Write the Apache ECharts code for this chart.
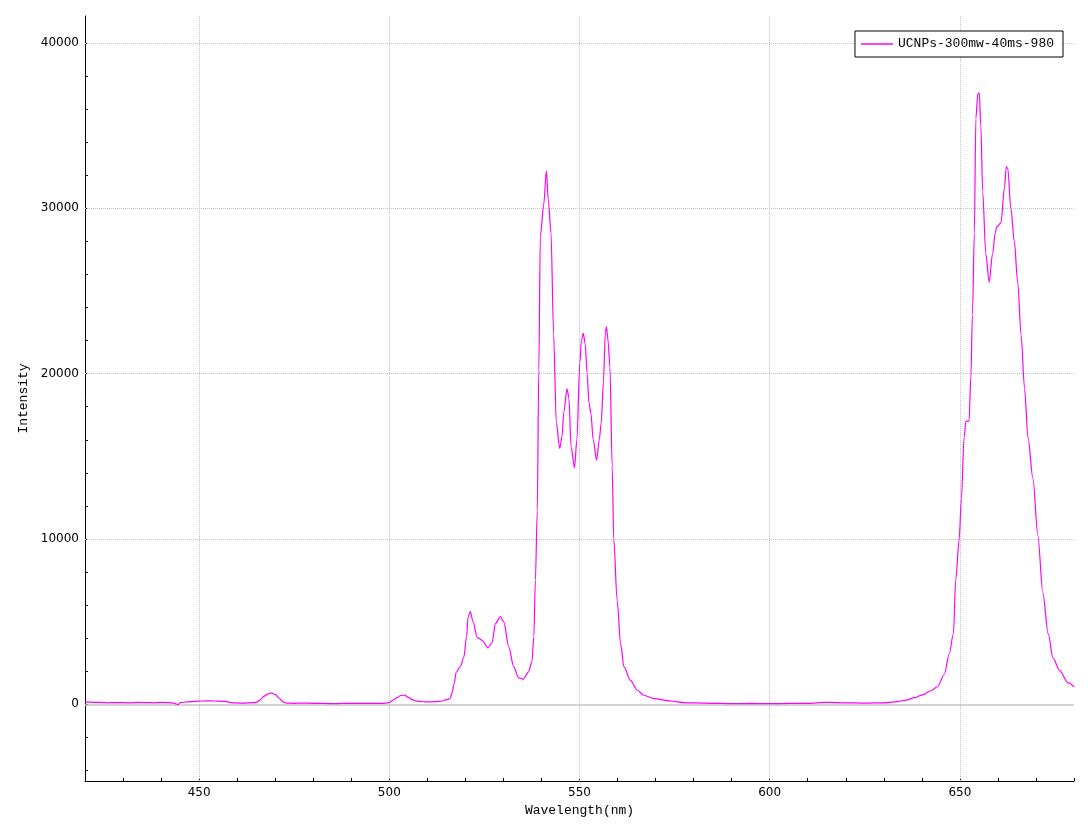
<!DOCTYPE html>
<html>
<head>
<meta charset="utf-8">
<script src="https://cdn.jsdelivr.net/npm/echarts@6/dist/echarts.min.js"></script>
<style>
html,body{margin:0;padding:0;background:#fff;}
#chart{width:1088px;height:827px;}
</style>
</head>
<body>
<div id="chart"></div>
<script>
const seriesName = 'UCNPs-300mw-40ms-980';
const wavelength = [420,422,424,426,428,430,432,434,436,438,440,442,443.5,444.5,445,447,449,451,453,455,457,458,459,461,463,465,466,467,468,469,470,471,472,473,475,477,480,483,486,489,492,495,498,500,501,502,503,504,505,506,507,508,510,512,514,515,516,516.5,517,517.6,518.7,519.6,520.3,520.7,521.3,522,523.1,524.4,525.9,527,527.9,529.2,530.1,531.4,532.7,534,535.2,536.6,537.5,538,538.4,538.9,539.3,539.7,540.6,541.3,541.8,542.5,543.2,543.9,544.8,545.4,545.9,546.7,547.2,547.8,548.7,549.3,550.1,550.5,551,551.5,552,552.5,553,553.6,554.5,555.2,555.7,556.3,556.8,557.1,557.5,558,558.6,559,559.9,560.8,561.7,563.4,565.2,566.9,569.6,574,577.5,580,585,590,595,600,605,610,615,620,625,630,633,636,638,640,642.4,644.1,645.9,647.2,648.3,648.9,649.8,650.4,651.1,651.6,652.4,652.9,653.3,653.8,654.2,654.7,655.1,655.5,656,656.8,657.7,658.6,659.3,659.7,660.8,661.7,662.2,662.6,663.4,664.3,665.2,666.1,667,667.9,669.2,670.5,671.8,673.2,674.5,676.2,678.4,680];
const intensity = [150,120,110,90,100,100,80,110,100,90,110,100,60,-20,100,150,180,200,210,190,170,120,90,70,80,110,250,480,620,680,600,380,150,70,60,70,60,50,40,60,50,60,50,100,250,400,530,560,420,280,210,170,140,160,200,280,350,700,1200,1950,2300,2860,4070,5280,5600,5000,4050,3870,3430,3710,4880,5300,4980,3470,2260,1600,1510,1960,2600,4100,7490,11700,20250,28300,30250,32270,30500,28550,22380,17060,15470,16200,17700,19080,18550,15570,14300,16000,20680,22000,22430,21800,20000,18200,17600,16000,14760,16000,17000,19500,22500,22830,22000,20400,14360,10000,6290,3670,2260,1450,850,545,340,200,100,80,60,40,50,40,50,60,110,90,70,90,150,250,400,550,820,1060,1800,3040,4280,7490,9960,12440,16140,17130,17130,19850,23560,28500,35430,36900,36980,35000,30980,27270,25540,27270,28500,28880,29120,31220,32500,32400,29990,28010,25540,22320,19110,16140,13670,10210,6750,4280,2790,2050,1310,1060];
const xLabelValues = [450,500,550,600,650];
const xTickValues = [420,430,440,450,460,470,480,490,500,510,520,530,540,550,560,570,580,590,600,610,620,630,640,650,660,670,680];
const yLabelValues = [0,10000,20000,30000,40000];
const yTickValues = [-4000,-2000,0,2000,4000,6000,8000,10000,12000,14000,16000,18000,20000,22000,24000,26000,28000,30000,32000,34000,36000,38000,40000];
const xGridValues = [450,500,550,600,650];
const yGridValues = [10000,20000,30000,40000];

const points = wavelength.map((w,i)=>[w,intensity[i]]);
const gridStyle = {type:'dotted', color:'#c4c4c4', width:1};
const markData = xGridValues.map(v=>({xAxis:v, lineStyle:gridStyle}))
  .concat(yGridValues.map(v=>({yAxis:v, lineStyle:gridStyle})))
  .concat([{yAxis:0, lineStyle:{type:'solid', color:'#c4c4c4', width:1.5}}]);

const chart = echarts.init(document.getElementById('chart'), null, {renderer:'canvas'});
const tickFont = {color:'#000', fontFamily:'DejaVu Sans', fontSize:12};
chart.setOption({
  animation:false,
  backgroundColor:'#fff',
  grid:{left:85, right:14, top:16, bottom:46, containLabel:false, outerBoundsMode:'none'},
  legend:{
    data:[{name:seriesName, icon:'rect'}],
    right:25, top:31, z:50,
    orient:'vertical',
    backgroundColor:'#fff',
    borderColor:'#000', borderWidth:1, borderRadius:0,
    padding:[5,9,5,6],
    itemWidth:32, itemHeight:1.5, itemGap:5,
    itemStyle:{color:'#ff00ff', borderWidth:0},
    textStyle:{fontFamily:'Liberation Mono', fontSize:13, color:'#000', lineHeight:16}
  },
  xAxis:{
    type:'value', min:420, max:680,
    name:'Wavelength(nm)', nameLocation:'middle', nameGap:23,
    nameTextStyle:{fontFamily:'Liberation Mono', fontSize:13, color:'#000'},
    axisLine:{show:true, onZero:false, lineStyle:{color:'#000', width:1}},
    axisTick:{show:true, inside:true, length:3, customValues:xTickValues, lineStyle:{color:'#000'}},
    axisLabel:{show:true, margin:6, customValues:xLabelValues, formatter:v=>String(v), ...tickFont},
    splitLine:{show:false}
  },
  yAxis:{
    type:'value', min:-4640, max:41630,
    name:'Intensity', nameLocation:'middle', nameGap:55, nameRotate:90,
    nameTextStyle:{fontFamily:'Liberation Mono', fontSize:13, color:'#000'},
    axisLine:{show:true, lineStyle:{color:'#000', width:1}},
    axisTick:{show:true, inside:true, length:3, customValues:yTickValues, lineStyle:{color:'#000'}},
    axisLabel:{show:true, margin:6, customValues:yLabelValues, formatter:v=>String(v), ...tickFont},
    splitLine:{show:false}
  },
  series:[
    {
      name:'__grid', type:'line', data:[], z:1, silent:true,
      markLine:{silent:true, z:1, symbol:['none','none'], label:{show:false}, animation:false, data:markData}
    },
    {
      name:seriesName, type:'line', data:points, z:3,
      symbol:'none', showSymbol:false,
      smooth:0.3, smoothMonotone:'x',
      lineStyle:{color:'#ff00ff', width:1.2},
      itemStyle:{color:'#ff00ff'}
    }
  ]
});
</script>
</body>
</html>
